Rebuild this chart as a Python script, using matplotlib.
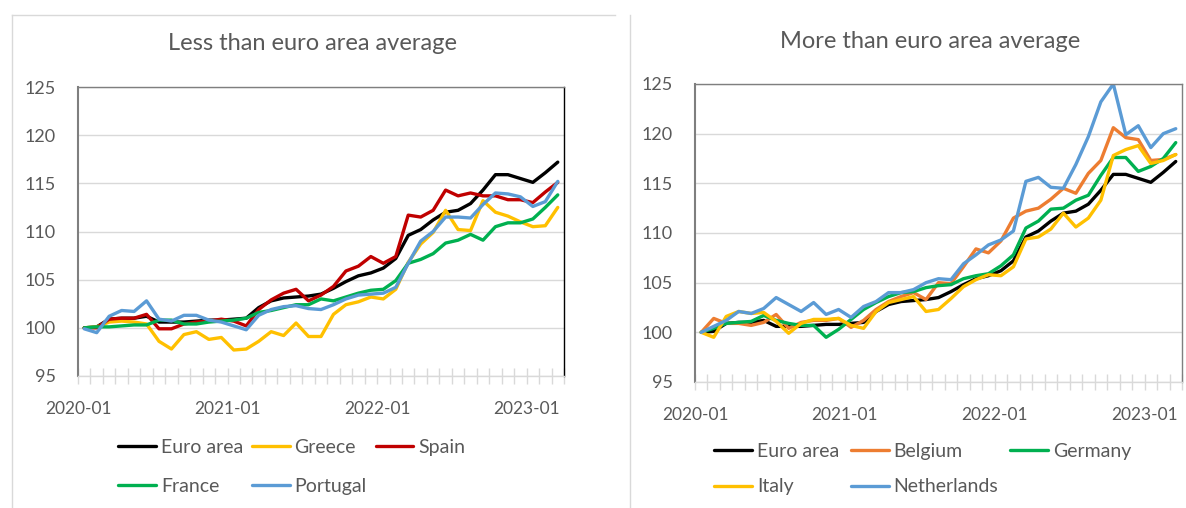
"""
House price indices, 2020-01 = 100: countries below / above the euro area average
"""

import matplotlib
matplotlib.use("Agg")
import matplotlib.pyplot as plt
from matplotlib.lines import Line2D
import numpy as np
import pandas as pd

plt.rcParams['font.family'] = ['Lato', 'DejaVu Sans']

# ── DATA ──────────────────────────────────────────────────────────────────
MONTHS = [str(p) for p in pd.period_range("2020-01", "2023-03", freq="M")]

EURO_AREA = [100.0, 100.1, 100.9, 101.0, 101.0, 101.2, 100.6, 100.6, 100.6, 100.7,
             100.8, 100.8, 100.9, 101.0, 102.1, 102.8, 103.1, 103.2, 103.3, 103.5,
             104.1, 104.8, 105.4, 105.7, 106.2, 107.2, 109.6, 110.2, 111.2, 112.0,
             112.2, 112.9, 114.3, 115.9, 115.9, 115.5, 115.1, 116.1, 117.2]
GREECE = [100.0, 100.1, 100.6, 100.7, 100.6, 100.4, 98.6, 97.8, 99.3, 99.6,
          98.8, 99.0, 97.7, 97.8, 98.6, 99.6, 99.2, 100.5, 99.1, 99.1,
          101.4, 102.4, 102.7, 103.2, 103.0, 104.0, 106.8, 108.7, 109.9, 112.2,
          110.2, 110.1, 113.2, 112.0, 111.6, 111.0, 110.5, 110.6, 112.5]
SPAIN = [100.0, 100.0, 100.9, 101.0, 101.0, 101.4, 99.9, 99.9, 100.4, 100.6,
         100.7, 100.9, 100.7, 100.2, 101.9, 102.9, 103.6, 104.0, 102.8, 103.4,
         104.3, 105.9, 106.4, 107.4, 106.7, 107.4, 111.7, 111.5, 112.2, 114.3,
         113.7, 114.0, 113.7, 113.7, 113.3, 113.3, 113.0, 114.1, 115.1]
FRANCE = [100.0, 100.1, 100.1, 100.2, 100.3, 100.3, 100.8, 100.8, 100.4, 100.4,
          100.6, 100.7, 100.8, 101.0, 101.6, 101.8, 102.1, 102.4, 102.4, 103.0,
          102.8, 103.2, 103.6, 103.9, 104.0, 104.9, 106.7, 107.1, 107.7, 108.8,
          109.1, 109.7, 109.1, 110.5, 110.9, 110.9, 111.3, 112.5, 113.8]
PORTUGAL = [99.9, 99.5, 101.2, 101.8, 101.7, 102.8, 100.9, 100.7, 101.3, 101.3,
            100.8, 100.6, 100.2, 99.8, 101.3, 101.9, 102.2, 102.3, 102.0, 101.9,
            102.4, 103.0, 103.4, 103.5, 103.6, 104.2, 106.7, 109.0, 110.0, 111.5,
            111.5, 111.4, 112.8, 114.0, 113.9, 113.6, 112.6, 113.1, 115.2]

BELGIUM = [100.0, 101.4, 100.9, 100.9, 100.7, 101.0, 101.8, 100.4, 101.0, 101.2,
           101.2, 101.4, 100.5, 101.2, 102.3, 103.1, 103.6, 104.0, 103.3, 105.0,
           104.9, 106.6, 108.4, 108.0, 109.2, 111.5, 112.2, 112.5, 113.4, 114.5,
           114.0, 116.0, 117.3, 120.6, 119.6, 119.4, 117.3, 117.4, 117.9]
GERMANY = [100.0, 100.4, 100.9, 101.0, 101.1, 101.7, 101.2, 100.9, 100.7, 100.7,
           99.5, 100.3, 101.3, 102.3, 103.0, 103.6, 104.0, 104.1, 104.5, 104.7,
           104.8, 105.4, 105.7, 105.9, 106.7, 107.8, 110.5, 111.2, 112.4, 112.5,
           113.3, 113.8, 115.8, 117.6, 117.6, 116.2, 116.7, 117.5, 119.1]
ITALY = [100.0, 99.5, 101.6, 102.1, 101.9, 102.0, 101.1, 99.9, 100.9, 101.3,
         101.3, 101.4, 100.7, 100.4, 102.1, 103.0, 103.3, 103.6, 102.1, 102.3,
         103.4, 104.6, 105.3, 105.8, 105.7, 106.6, 109.4, 109.6, 110.4, 112.0,
         110.6, 111.5, 113.3, 117.8, 118.4, 118.8, 117.0, 117.3, 117.9]
NETHERLANDS = [100.0, 100.6, 101.2, 102.1, 101.9, 102.4, 103.5, 102.8, 102.1, 103.0,
               101.8, 102.3, 101.5, 102.6, 103.1, 104.0, 104.0, 104.3, 105.0, 105.4,
               105.3, 106.9, 107.8, 108.8, 109.3, 110.2, 115.2, 115.6, 114.6, 114.5,
               116.9, 119.7, 123.2, 125.0, 119.9, 120.8, 118.6, 120.0, 120.5]

LOW_NAMES = ["Euro area", "Greece", "Spain", "France", "Portugal"]
LOW_SERIES = [EURO_AREA, GREECE, SPAIN, FRANCE, PORTUGAL]
LOW_COLORS = ["#000000", "#FFC000", "#C00000", "#00B050", "#5B9BD5"]

HIGH_NAMES = ["Euro area", "Belgium", "Germany", "Italy", "Netherlands"]
HIGH_SERIES = [EURO_AREA, BELGIUM, GERMANY, ITALY, NETHERLANDS]
HIGH_COLORS = ["#000000", "#ED7D31", "#00B050", "#FFC000", "#5B9BD5"]

# ── LAYOUT ────────────────────────────────────────────────────────────────
W, H = 1186, 508
TXT = "#595959"
GRID = "#d9d9d9"

fig = plt.figure(figsize=(W / 100, H / 100), dpi=100)
axL = fig.add_axes([78 / W, 1 - 376 / H, 486 / W, 289 / H])
axR = fig.add_axes([695 / W, 1 - 382 / H, 487 / W, 298 / H])


def draw_panel(ax, names, series, colors, right_color):
    x = np.arange(len(MONTHS))
    handles = []
    for name, vals, col in zip(names, series, colors):
        ln, = ax.plot(x, vals, color=col, lw=2.4, label=name,
                      solid_joinstyle="round", solid_capstyle="round")
        handles.append(ln)

    ax.set_xlim(-0.5, len(MONTHS) - 0.5)
    ax.set_ylim(95, 125)
    ax.set_yticks(range(95, 126, 5))
    ax.yaxis.grid(True, color=GRID, lw=1)
    ax.set_axisbelow(True)
    ax.tick_params(axis="y", length=0, pad=16, labelsize=13, labelcolor=TXT)

    # year labels sit on the category boundaries, one every 12 months
    ax.set_xticks(np.arange(-0.5, len(MONTHS), 12))
    ax.set_xticklabels(MONTHS[::12])
    ax.set_xticks(np.arange(-0.5, len(MONTHS)), minor=True)
    ax.tick_params(axis="x", which="both", direction="inout", length=12,
                   width=1, color=GRID, labelsize=12.5, labelcolor=TXT, pad=12)

    ax.spines["left"].set_color("#7f7f7f")
    ax.spines["left"].set_linewidth(1.5)
    ax.spines["top"].set_color("#7f7f7f")
    ax.spines["top"].set_linewidth(1)
    ax.spines["right"].set_color(right_color)
    ax.spines["right"].set_linewidth(1)
    ax.spines["bottom"].set_color(GRID)
    ax.spines["bottom"].set_linewidth(1)
    return handles


hL = draw_panel(axL, LOW_NAMES, LOW_SERIES, LOW_COLORS, "#000000")
hR = draw_panel(axR, HIGH_NAMES, HIGH_SERIES, HIGH_COLORS, "#7f7f7f")

# Legends: 3 columns, filled row by row
order = [0, 3, 1, 4, 2]
leg_kw = dict(loc="upper left", ncol=3, frameon=False, fontsize=14,
              handlelength=1.95, handletextpad=0.25,
              borderpad=0, borderaxespad=0, labelcolor=TXT)
fig.legend([hL[i] for i in order], [LOW_NAMES[i] for i in order],
           bbox_to_anchor=(118 / W, 1 - 439 / H), columnspacing=0.45,
           labelspacing=1.12, **leg_kw)
fig.legend([hR[i] for i in order], [HIGH_NAMES[i] for i in order],
           bbox_to_anchor=(714 / W, 1 - 443 / H), columnspacing=0.6,
           labelspacing=0.95, **leg_kw)

# Titles
fig.text(312 / W, 1 - 44 / H, "Less than euro area average", ha="center",
         va="center", fontsize=17, color=TXT)
fig.text(930 / W, 1 - 42 / H, "More than euro area average", ha="center",
         va="center", fontsize=17, color=TXT)

# Chart-area borders
for xs, ys in [([12, 12], [15, H]), ([12, 615], [15, 15]), ([630, 630], [15, H])]:
    fig.add_artist(Line2D([v / W for v in xs], [1 - v / H for v in ys],
                          color=GRID, lw=1, transform=fig.transFigure))

fig.savefig("out.png", dpi=100)
